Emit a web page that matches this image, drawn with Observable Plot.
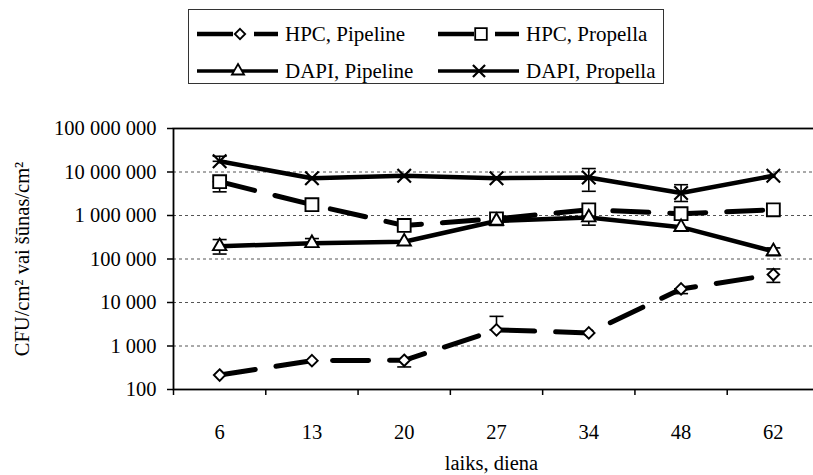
<!DOCTYPE html>
<html>
<head>
<meta charset="utf-8">
<script src="https://cdn.jsdelivr.net/npm/d3@7"></script>
<script src="https://cdn.jsdelivr.net/npm/@observablehq/plot@0.6"></script>
<style>
  html, body { margin: 0; padding: 0; background: white; overflow: hidden; }
  #wrap { position: relative; width: 813px; height: 475px; overflow: hidden; background: white; }
  #legend { position: absolute; left: 0; top: 0; }
  #chart { position: absolute; left: 0; top: 90px; }
  svg text { font-family: "Liberation Serif", "Times New Roman", serif; }
</style>
</head>
<body>
<div id="wrap"><div id="legend"></div><div id="chart"></div></div>
<script>
// ---- data ----
const days = [6, 13, 20, 27, 34, 48, 62];
const yTicks = [100, 1e3, 1e4, 1e5, 1e6, 1e7, 1e8];
const gridValues = [1e3, 1e4, 1e5, 1e6, 1e7];

const hpcPipeline  = [215, 460, 470, 2350, 2000, 20500, 44000];
const hpcPropella  = [6.0e6, 1.77e6, 5.9e5, 8.4e5, 1.35e6, 1.1e6, 1.35e6];
const dapiPipeline = [1.96e5, 2.3e5, 2.5e5, 7.5e5, 9.0e5, 5.4e5, 1.5e5];
const dapiPropella = [1.76e7, 7.2e6, 8.2e6, 7.2e6, 7.5e6, 3.3e6, 8.2e6];

// error bars [low, high] or null
const hpcPipelineErr  = [null, null, [330, 470], [2350, 4800], null, [16000, 20500], [29000, 59000]];
const hpcPropellaErr  = [[3.5e6, 6.0e6], null, null, null, null, null, null];
const dapiPipelineErr = [[1.3e5, 2.8e5], [2.3e5, 2.95e5], null, null, [6.0e5, 9.0e5], null, [1.2e5, 1.8e5]];
const dapiPropellaErr = [[1.76e7, 2.3e7], null, null, null, [3.6e6, 1.2e7], [2.1e6, 5.1e6], null];

const seriesNames = ["HPC, Pipeline", "HPC, Propella", "DAPI, Pipeline", "DAPI, Propella"];
const yLabel = "CFU/cm² vai šūnas/cm²";
const xLabel = "laiks, diena";

// ---- build tables ----
const series = [
  {name: seriesNames[0], values: hpcPipeline,  err: hpcPipelineErr,  dashed: true,  symbol: "diamond2", r: 5.2},
  {name: seriesNames[1], values: hpcPropella,  err: hpcPropellaErr,  dashed: true,  symbol: "square2",  r: 8.2},
  {name: seriesNames[2], values: dapiPipeline, err: dapiPipelineErr, dashed: false, symbol: "triangle2", r: 6.4},
  {name: seriesNames[3], values: dapiPropella, err: dapiPropellaErr, dashed: false, symbol: "times",    r: 6.2}
];
const rows = s => s.values.map((v, i) => ({i, v}));
const errRows = s => s.err.map((e, i) => e ? {i, lo: e[0], hi: e[1]} : null).filter(Boolean);
const capRows = s => errRows(s).flatMap(d => [{i: d.i, v: d.lo}, {i: d.i, v: d.hi}]);

const capSymbol = { draw(ctx) { ctx.moveTo(-7, 0); ctx.lineTo(7, 0); } };
const fmt = v => d3.format(",")(v).replace(/,/g, "\u00a0");
const centers = days.map((d, i) => i);
const boundaries = d3.range(days.length + 1).map(k => k - 0.5);

const marks = [
  Plot.ruleY(gridValues, {stroke: "#555", strokeWidth: 1, strokeDasharray: "3,3"}),
  Plot.frame({stroke: "black", strokeWidth: 1.8}),
  Plot.axisY({ticks: yTicks, tickSize: 6, tickPadding: 11, tickFormat: fmt, label: null, stroke: "black", strokeWidth: 1.5, fontSize: 20.5}),
  Plot.axisX({ticks: boundaries, tickSize: 6, tickFormat: () => "", label: null, stroke: "black", strokeWidth: 1.5}),
  Plot.axisX({ticks: centers, tickSize: 0, tickPadding: 35, tickFormat: i => days[i], label: null, fontSize: 20.5}),
  Plot.text([yLabel], {frameAnchor: "left", textAnchor: "middle", rotate: -90, dx: -151, fontSize: 20.5}),
  Plot.text([xLabel], {frameAnchor: "bottom", dy: 80, dx: -5, fontSize: 20.5})
];
for (const s of series) {
  marks.push(Plot.line(rows(s), {x: "i", y: "v", stroke: "black", strokeWidth: s.dashed ? 5 : 4.5,
    strokeDasharray: s.dashed ? "36,21" : null, strokeLinejoin: "round"}));
}
for (const s of series) {
  marks.push(Plot.ruleX(errRows(s), {x: "i", y1: "lo", y2: "hi", stroke: "black", strokeWidth: 1.6}));
  marks.push(Plot.dot(capRows(s), {x: "i", y: "v", symbol: capSymbol, r: 4, stroke: "black", fill: "none", strokeWidth: 1.6}));
}
for (const s of series) {
  const isStroke = s.symbol === "times";
  marks.push(Plot.dot(rows(s), {x: "i", y: "v", symbol: s.symbol, r: s.r,
    fill: isStroke ? "none" : "white", stroke: "black", strokeWidth: isStroke ? 2.2 : 1.9}));
}

const chart = Plot.plot({
  width: 813,
  height: 385,
  marginLeft: 173,
  marginRight: -6,
  marginTop: 38,
  marginBottom: 86,
  style: {fontFamily: "'Liberation Serif', 'Times New Roman', serif", fontSize: "20.5px", background: "white", color: "black"},
  x: {type: "linear", domain: [-0.5, 6.5], axis: null},
  y: {type: "log", domain: [100, 1e8], axis: null},
  marks
});
document.getElementById("chart").appendChild(chart);

// ---- legend ----
const lg = d3.select("#legend").append("svg").attr("width", 813).attr("height", 90);
lg.append("rect").attr("x", 188.5).attr("y", 9.5).attr("width", 475).attr("height", 74)
  .attr("fill", "white").attr("stroke", "#333").attr("stroke-width", 1);
const lgPos = [
  {x: 197, y: 34}, {x: 438, y: 34}, {x: 197, y: 71}, {x: 438, y: 71}
];
const d3sym = {diamond2: d3.symbolDiamond2, square2: d3.symbolSquare2, triangle2: d3.symbolTriangle2, times: d3.symbolTimes};
series.forEach((s, k) => {
  const p = lgPos[k];
  const g = lg.append("g").attr("transform", `translate(${p.x},${p.y})`);
  g.append("line").attr("x1", 0).attr("x2", 81).attr("y1", 0).attr("y2", 0)
    .attr("stroke", "black").attr("stroke-width", s.dashed ? 4.5 : 3.5)
    .attr("stroke-dasharray", s.dashed ? "36,21" : null);
  const mx = s.dashed ? 43 : 41;
  const r = s.r * 0.9;
  g.append("path").attr("transform", `translate(${mx},0)`)
    .attr("d", d3.symbol().type(d3sym[s.symbol]).size(r * r * Math.PI)())
    .attr("fill", s.symbol === "times" ? "none" : "white").attr("stroke", "black")
    .attr("stroke-width", s.symbol === "times" ? 2.2 : 1.8);
  g.append("text").attr("x", 88).attr("y", 0).attr("dy", "0.35em")
    .attr("font-size", 21).attr("fill", "black").text(s.name);
});
</script>
</body>
</html>
